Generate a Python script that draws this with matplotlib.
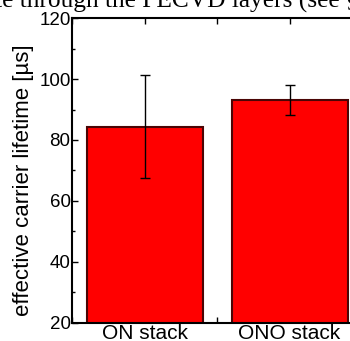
import matplotlib.pyplot as plt
from matplotlib.ticker import MultipleLocator

stacks = ["ON stack", "ONO stack"]
lifetime = [84.3, 93.1]
lifetime_err = [16.9, 5.0]
y_ticks = [20, 40, 60, 80, 100, 120]

fig = plt.figure(figsize=(3.5, 3.41), dpi=100)
ax = fig.add_axes([0.2057, 0.0537, 0.829, 0.893])

pos = [1, 2]
ax.bar(pos, lifetime, width=0.8, color="#ff0000", edgecolor="#4a0505",
       linewidth=1.5, zorder=2)
ax.errorbar(pos, lifetime, yerr=lifetime_err, fmt="none", ecolor="black",
            elinewidth=1.0, capsize=3.6, capthick=1.0, zorder=3)

ax.set_xlim(0.5, 2.5)
ax.set_ylim(20, 120)
ax.set_yticks(y_ticks)
ax.yaxis.set_minor_locator(MultipleLocator(10))
ax.set_xticks(pos)
ax.set_xticklabels(stacks)
ax.xaxis.set_minor_locator(MultipleLocator(0.5))

for s in ax.spines.values():
    s.set_linewidth(1.5)

ax.tick_params(axis="both", which="both", direction="in", top=True, width=1.0)
ax.tick_params(axis="y", which="major", length=4, labelsize=13.5, pad=1)
ax.tick_params(axis="y", which="minor", length=2.5)
ax.tick_params(axis="x", which="major", length=4, labelsize=15, pad=1)
ax.tick_params(axis="x", which="minor", length=4)
for lab in ax.get_xticklabels() + ax.get_yticklabels():
    lab.set_fontfamily("Liberation Sans")

ax.set_ylabel("effective carrier lifetime [µs]", fontsize=16,
              fontfamily="Liberation Sans")
ax.yaxis.set_label_coords(-0.13, 0.468)

# the line of document text cut at the top of the crop
fig.text(-0.046, 1 - 7.5 / 341, "ate through the PECVD layers (see §",
         fontsize=18.3, fontfamily="Liberation Serif", ha="left",
         va="baseline")

fig.savefig("out.png", dpi=100)
